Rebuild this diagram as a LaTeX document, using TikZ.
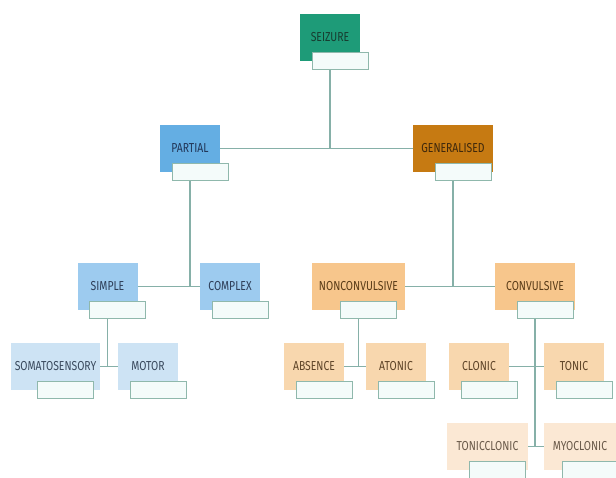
\documentclass[tikz,border=0pt]{standalone}
\usepackage{fontspec}
\newfontfamily\labelfont{Fira Sans}[FakeStretch=0.8]
\usetikzlibrary{positioning,calc}
\definecolor{linkgrey}{HTML}{86B0A8}
\definecolor{tagedge}{HTML}{8FB8AC}
\definecolor{tagfill}{HTML}{F4FBFA}
\tikzset{
  catbox/.style={shape=rectangle,inner sep=0pt,minimum height=47pt,
    minimum width=60pt,font=\labelfont\fontsize{13}{14}\selectfont},
  tagbox/.style={shape=rectangle,draw=tagedge,fill=tagfill,line width=1pt,
    inner sep=0pt,minimum width=56pt,minimum height=17pt,anchor=north},
  link/.style={draw=linkgrey,line width=1.4pt},
  top/.style={catbox,fill=teal1,text=teal1txt},
  blueA/.style={catbox,fill=blue1,text=blue1txt},
  blueB/.style={catbox,fill=blue2,text=blue2txt},
  blueC/.style={catbox,fill=blue3,text=blue3txt},
  orangeA/.style={catbox,fill=orange1,text=orange1txt},
  orangeB/.style={catbox,fill=orange2,text=orange2txt},
  orangeC/.style={catbox,fill=orange3,text=orange3txt},
  orangeD/.style={catbox,fill=orange4,text=orange4txt}
}
\definecolor{teal1}{HTML}{1E9B78}\definecolor{teal1txt}{HTML}{173D30}
\definecolor{blue1}{HTML}{64AEE3}\definecolor{blue1txt}{HTML}{223658}
\definecolor{blue2}{HTML}{9DCBEF}\definecolor{blue2txt}{HTML}{2E3E58}
\definecolor{blue3}{HTML}{CDE3F4}\definecolor{blue3txt}{HTML}{3A4A5E}
\definecolor{orange1}{HTML}{C67A12}\definecolor{orange1txt}{HTML}{3E280C}
\definecolor{orange2}{HTML}{F7C68C}\definecolor{orange2txt}{HTML}{5A3C18}
\definecolor{orange3}{HTML}{F8D7AE}\definecolor{orange3txt}{HTML}{5E4428}
\definecolor{orange4}{HTML}{FBE8D4}\definecolor{orange4txt}{HTML}{6A5A4A}

\begin{document}
\begin{tikzpicture}[x=1pt,y=-1pt]
  \useasboundingbox (0,0) rectangle (616,477);
  % level 0 and 1
  \node (seizure) [top] at (330,37) {SEIZURE};
  \node (partial) [blueA] at (190,148.5) {PARTIAL};
  \node (generalised) [orangeA,minimum width=80pt] at (453,148.5) {GENERALISED};
  % level 2
  \node (simple) [blueB] at (107.5,286.5) {SIMPLE};
  \node (complex) [blueB] at (230,286.5) {COMPLEX};
  \node (nonconvulsive) [orangeB,minimum width=93pt] at (358.5,286.5) {NONCONVULSIVE};
  \node (convulsive) [orangeB,minimum width=80pt] at (535,286.5) {CONVULSIVE};
  % level 3
  \node (somatosensory) [blueC,minimum width=89pt] at (55.5,366.5) {SOMATOSENSORY};
  \node (motor) [blueC] at (148,366.5) {MOTOR};
  \node (absence) [orangeC] at (314,366.5) {ABSENCE};
  \node (atonic) [orangeC] at (396,366.5) {ATONIC};
  \node (clonic) [orangeC] at (479,366.5) {CLONIC};
  \node (tonic) [orangeC] at (574,366.5) {TONIC};
  % level 4
  \node (tonicclonic) [orangeD,minimum width=81pt] at (487.5,446.5) {TONICCLONIC};
  \node (myoclonic) [orangeD,minimum width=72pt] at (580,446.5) {MYOCLONIC};
  % empty tags under each box
  \foreach \n in {seizure,partial,generalised,simple,complex,nonconvulsive,
    convulsive,somatosensory,motor,absence,atonic,clonic,tonic,tonicclonic,myoclonic}
    \node (\n-t) [tagbox] at ([shift={(10,-9)}]\n.south) {};
  % connectors
  \draw [link] (partial.east) -- (generalised.west);
  \draw [link] (seizure-t.south -| seizure.center) -- (seizure.center |- partial.east);
  \draw [link] (simple.east) -- (complex.west);
  \draw [link] (partial-t.south -| partial.center) -- (partial.center |- simple.east);
  \draw [link] (nonconvulsive.east) -- (convulsive.west);
  \draw [link] (generalised-t.south -| generalised.center) -- (generalised.center |- convulsive.west);
  \draw [link] (somatosensory.east) -- (motor.west);
  \draw [link] (simple-t.south -| simple.center) -- (simple.center |- motor.west);
  \draw [link] (absence.east) -- (atonic.west);
  \draw [link] (nonconvulsive-t.south -| nonconvulsive.center) -- (nonconvulsive.center |- atonic.west);
  \draw [link] (clonic.east) -- (tonic.west);
  \draw [link] (tonicclonic.east) -- (myoclonic.west);
  \draw [link] (convulsive-t.south -| convulsive.center) -- (convulsive.center |- myoclonic.west);
\end{tikzpicture}
\end{document}
